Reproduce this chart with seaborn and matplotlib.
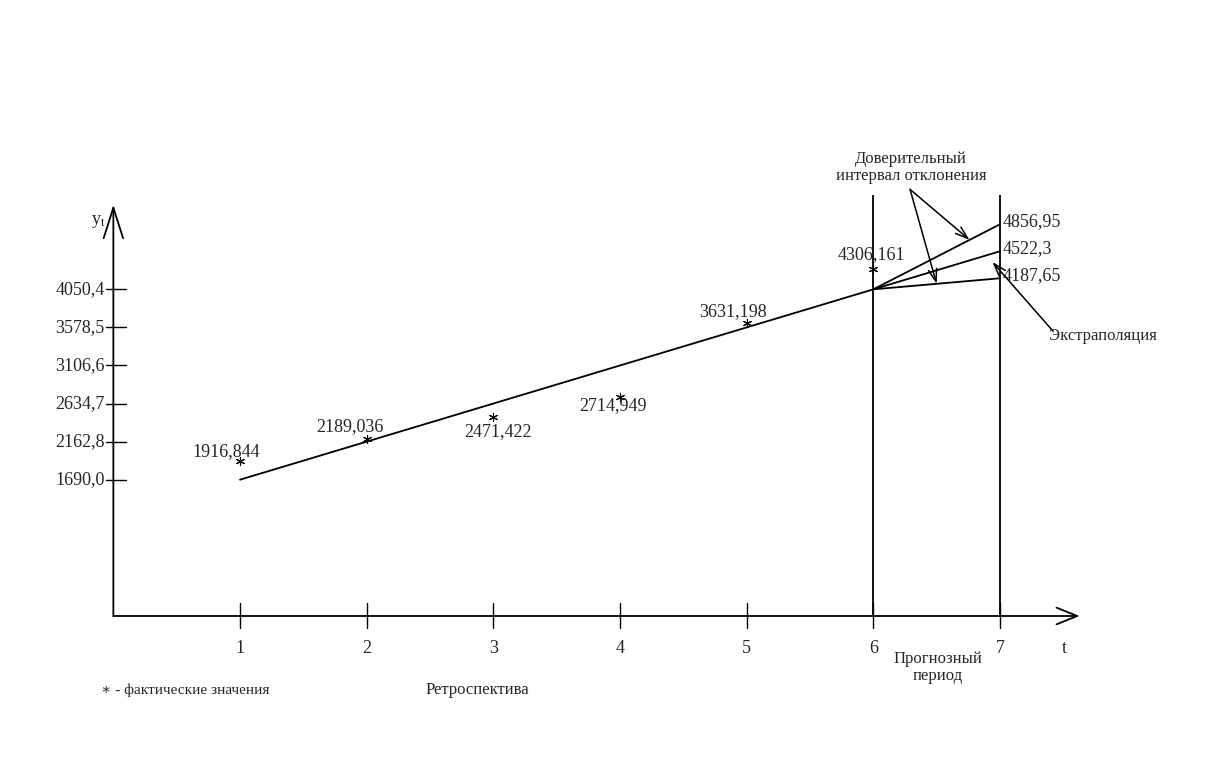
# --- Import Libraries ---
import numpy as np
import matplotlib
matplotlib.use("Agg")
import matplotlib.pyplot as plt
import seaborn as sns

# --- Data ---
t_fact = [1, 2, 3, 4, 5, 6]
y_fact = [1916.844, 2189.036, 2471.422, 2714.949, 3631.198, 4306.161]
fact_labels = ["1916,844", "2189,036", "2471,422", "2714,949", "3631,198", "4306,161"]

trend_t = [1, 6]
trend_y = [1690.0, 4050.4]

forecast_t = [6, 7]
forecast_upper = [4050.4, 4856.95]
forecast_mid = [4050.4, 4522.3]
forecast_lower = [4050.4, 4187.65]
forecast_labels = ["4856,95", "4522,3", "4187,65"]

x_ticks = [1, 2, 3, 4, 5, 6, 7]
y_ticks = [1690.0, 2162.8, 2634.7, 3106.6, 3578.5, 4050.4]
y_tick_labels = ["1690,0", "2162,8", "2634,7", "3106,6", "3578,5", "4050,4"]

# label offsets (points) for the fact values
label_offsets = [(-10, 7), (-12, 9), (3, -11), (-5, -6), (-10, 8), (-1, 10)]

# --- Style ---
sns.set_style("white")
plt.rcParams['font.family'] = ['Liberation Serif', 'DejaVu Serif']
plt.rcParams['mathtext.fontset'] = 'stix'

fig = plt.figure(figsize=(12.12, 7.71), dpi=100)
ax = fig.add_axes([0, 0, 1, 1])
ax.set_xlim(-0.895, 8.674)
ax.set_ylim(-1922, 7638)
ax.axis('off')

lw = 1.3
fs_num = 13
fs_txt = 12

# --- Axes with arrows ---
ax.annotate('', xy=(7.63, 0), xytext=(0, 0),
            arrowprops=dict(arrowstyle='->,head_length=0.75,head_width=0.3',
                            mutation_scale=20, lw=lw, color='black',
                            shrinkA=0, shrinkB=0))
ax.annotate('', xy=(0, 5100), xytext=(0, 0),
            arrowprops=dict(arrowstyle='->,head_length=1.1,head_width=0.35',
                            mutation_scale=20, lw=lw, color='black',
                            shrinkA=0, shrinkB=0))

# x ticks
for t in x_ticks:
    ax.plot([t, t], [-150, 160], color='black', lw=1.0)
    ax.text(t, -400, str(t), ha='center', va='center', fontsize=fs_num)

# y ticks
for v, lab in zip(y_ticks, y_tick_labels):
    ax.plot([-0.06, 0.1], [v, v], color='black', lw=1.0)
    ax.text(-0.07, v, lab, ha='right', va='center', fontsize=fs_num)

ax.text(-0.12, 4890, r'y$_\mathrm{t}$', ha='center', va='center', fontsize=fs_num)
ax.text(7.51, -400, 't', ha='center', va='center', fontsize=fs_num)

# vertical boundaries of forecast period
ax.vlines([6, 7], 0, 5220, color='black', lw=lw)

# --- Trend and forecast lines ---
sns.lineplot(x=trend_t, y=trend_y, color='black', lw=lw, ax=ax)
for ys in (forecast_upper, forecast_mid, forecast_lower):
    sns.lineplot(x=forecast_t, y=ys, color='black', lw=lw, ax=ax)

for ys, lab in zip((forecast_upper, forecast_mid, forecast_lower), forecast_labels):
    ax.text(7.02, ys[1] + 30, lab, ha='left', va='center', fontsize=fs_num)

# --- Actual values ---
sns.scatterplot(x=t_fact, y=y_fact, marker=(6, 2, 0), s=35, color='black',
                linewidth=0.8, ax=ax)
for t, v, lab, off in zip(t_fact, y_fact, fact_labels, label_offsets):
    ax.annotate(lab, xy=(t, v), xytext=off, textcoords='offset points',
                ha='center', va='center', fontsize=fs_num)

# --- Annotations ---
ax.text(6.3, 5560, 'Доверительный\nинтервал отклонения', ha='center', va='center',
        fontsize=fs_txt, linespacing=1.1)
t_up, t_lo = 6.76, 6.5
for tt, ys in ((t_up, forecast_upper), (t_lo, forecast_lower)):
    ax.annotate('', xy=(tt, np.interp(tt, forecast_t, ys)), xytext=(6.29, 5290),
                arrowprops=dict(arrowstyle='->,head_length=0.6,head_width=0.2',
                                mutation_scale=15, lw=1.1, color='black',
                                shrinkA=0, shrinkB=0))

ax.annotate('', xy=(6.94, 4390), xytext=(7.42, 3530),
            arrowprops=dict(arrowstyle='->,head_length=0.6,head_width=0.2',
                            mutation_scale=15, lw=1.1, color='black',
                            shrinkA=0, shrinkB=0))
ax.text(7.39, 3470, 'Экстраполяция', ha='left', va='center', fontsize=fs_txt)

ax.text(2.87, -920, 'Ретроспектива', ha='center', va='center', fontsize=fs_txt)
ax.text(6.51, -640, 'Прогнозный\nпериод', ha='center', va='center', fontsize=fs_txt,
        linespacing=1.1)
ax.text(-0.1, -920, '∗ - фактические значения', ha='left', va='center', fontsize=11)

fig.savefig("out.png", dpi=100, facecolor='white')
